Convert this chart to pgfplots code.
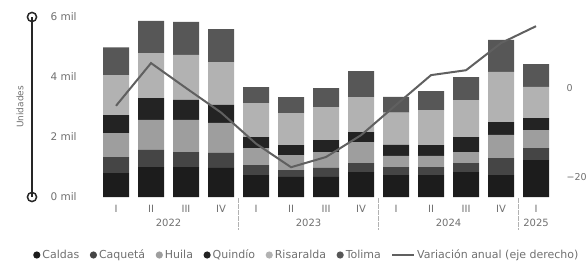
\documentclass[border=0pt]{standalone}
\usepackage{pgfplots}
\pgfplotsset{compat=1.18}
\usepackage{pgfplotstable}
\usepackage{fontspec}
\setmainfont{DejaVu Sans}
\definecolor{cCaldas}{HTML}{1C1C1C}
\definecolor{cCaqueta}{HTML}{454545}
\definecolor{cHuila}{HTML}{9E9E9E}
\definecolor{cQuindio}{HTML}{232323}
\definecolor{cRisaralda}{HTML}{B2B2B2}
\definecolor{cTolima}{HTML}{575757}
\definecolor{cLine}{HTML}{606060}
\definecolor{cText}{HTML}{707070}

\pgfplotstableread{
x  Caldas Caqueta Huila Quindio Risaralda Tolima Var
0  0.80   0.53    0.80  0.60    1.33      0.93   -4.0
1  1.00   0.57    1.00  0.73    1.50      1.07    5.6
2  1.00   0.50    1.07  0.67    1.50      1.10    0.0
3  0.97   0.50    1.00  0.60    1.43      1.10   -5.5
4  0.73   0.33    0.57  0.37    1.13      0.53  -12.5
5  0.67   0.23    0.50  0.33    1.07      0.53  -17.8
6  0.67   0.30    0.53  0.40    1.10      0.63  -15.5
7  0.83   0.30    0.70  0.33    1.17      0.87  -10.6
8  0.73   0.27    0.37  0.37    1.07      0.53   -3.8
9  0.73   0.27    0.37  0.36    1.17      0.63    2.9
10 0.83   0.30    0.37  0.50    1.23      0.77    4.0
11 0.73   0.57    0.77  0.43    1.67      1.07   10.1
12 1.23   0.40    0.60  0.40    1.04      0.76   13.9
}\datatable

\pgfplotsset{
  bulletlegend/.style={legend image code/.code={\fill[##1] (0pt,0pt) circle (3.6pt);}},
}

\begin{document}
\begin{tikzpicture}
\path[use as bounding box] (-32pt,-68pt) rectangle (556pt,197pt);
\begin{axis}[
  at={(0,0)}, anchor=south west,
  scale only axis, width=531pt, height=180pt,
  xmin=-2.4, xmax=12.77, ymin=0, ymax=6,
  ybar stacked, bar width=26pt,
  clip=false,
  axis line style={draw=none},
  tick style={draw=none},
  xtick={0,...,12},
  xticklabels={I,II,III,IV,I,II,III,IV,I,II,III,IV,I},
  xtick pos=bottom, ytick pos=left,
  ytick={0,2,4,6},
  yticklabels={0 mil,2 mil,4 mil,6 mil},
  xticklabel style={anchor=center, yshift=-12pt, font=\fontsize{10}{12}\selectfont, text=cText},
  yticklabel style={anchor=west, xshift=15pt, font=\fontsize{10.5}{12}\selectfont, text=cText},
  extra x ticks={3.5,7.5,11.5},
  extra x tick labels={},
  extra x tick style={major tick length=32pt, tick align=outside,
    tick style={draw=black!30, densely dotted, line width=0.6pt}},
  legend columns=-1,
  legend style={at={(axis description cs:0,0)}, anchor=west, xshift=-2pt, yshift=-58pt,
    draw=none, fill=none, font=\fontsize{11}{13}\selectfont, text=cText,
    /tikz/every even column/.append style={column sep=8.5pt}},
]
\addplot[fill=cCaldas, draw=none, bulletlegend] table[x=x,y=Caldas]{\datatable};
\addplot[fill=cCaqueta, draw=none, bulletlegend] table[x=x,y=Caqueta]{\datatable};
\addplot[fill=cHuila, draw=none, bulletlegend] table[x=x,y=Huila]{\datatable};
\addplot[fill=cQuindio, draw=none, bulletlegend] table[x=x,y=Quindio]{\datatable};
\addplot[fill=cRisaralda, draw=none, bulletlegend] table[x=x,y=Risaralda]{\datatable};
\addplot[fill=cTolima, draw=none, bulletlegend] table[x=x,y=Tolima]{\datatable};
\legend{Caldas,Caquetá,Huila,Quindío,Risaralda,Tolima}
\addlegendimage{legend image code/.code={\draw[cLine, line width=1.8pt] (-2pt,0pt) -- (20pt,0pt);}}
\addlegendentry{Variación anual (eje derecho)}
\draw[line width=2.2pt, black!85] (rel axis cs:0,0) -- (rel axis cs:0,1);
\draw[line width=1.5pt, black!85, fill=white] (rel axis cs:0,0) circle (4.6pt);
\draw[line width=1.5pt, black!85, fill=white] (rel axis cs:0,1) circle (4.6pt);
\node[rotate=90, font=\fontsize{9}{11}\selectfont, text=cText] at ([xshift=-12pt]rel axis cs:0,0.5) {Unidades};
\node[font=\fontsize{10}{12}\selectfont, text=cText] at ([yshift=-26pt]axis cs:1.5,0) {2022};
\node[font=\fontsize{10}{12}\selectfont, text=cText] at ([yshift=-26pt]axis cs:5.5,0) {2023};
\node[font=\fontsize{10}{12}\selectfont, text=cText] at ([yshift=-26pt]axis cs:9.5,0) {2024};
\node[font=\fontsize{10}{12}\selectfont, text=cText] at ([yshift=-26pt]axis cs:12,0) {2025};
\end{axis}
\begin{axis}[
  at={(0,0)}, anchor=south west,
  scale only axis, width=531pt, height=180pt,
  xmin=-2.4, xmax=12.77, ymin=-24.49, ymax=15.96,
  axis line style={draw=none},
  tick style={draw=none},
  xtick=\empty,
  ytick={-20,0}, yticklabels={−20,0},
  ytick pos=right, yticklabel pos=right,
  yticklabel style={anchor=west, xshift=0pt, font=\fontsize{9.5}{11}\selectfont, text=cText},
]
\addplot[cLine, line width=2pt] table[x=x,y=Var]{\datatable};
\end{axis}
\end{tikzpicture}
\end{document}
